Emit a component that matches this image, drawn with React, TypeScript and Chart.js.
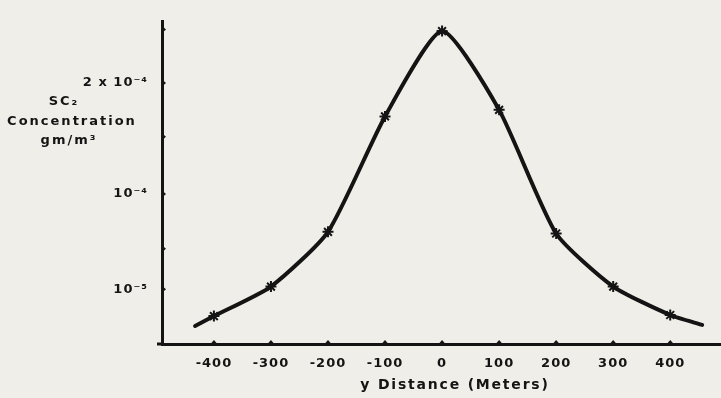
import React, { useEffect, useRef } from "react";
import { Chart, registerables } from "chart.js";
Chart.register(...registerables);

// Data (y in the figure's own plotted units)
const distances = [-433, -400, -300, -200, -100, 0, 100, 200, 300, 400, 456];
const concentration = [0.33, 0.51, 1.05, 2.05, 4.16, 5.72, 4.28, 2.02, 1.05, 0.53, 0.35];
const markerShown = [false, true, true, true, true, true, true, true, true, true, false];

const xTicks = [-400, -300, -200, -100, 0, 100, 200, 300, 400];
const xTickLabels = ["-400", "-300", "-200", "-100", "0", "100", "200", "300", "400"];
const yTicks = [1.0, 1.74, 2.74, 3.79, 4.77, 5.75];
const yTickLabels = ["10⁻⁵", "", "10⁻⁴", "", "2 x 10⁻⁴", ""];
const yTitleLines = ["SC₂", "Concentration", "gm/m³"];
const xTitle = "y Distance (Meters)";

const INK = "#141414";
const BG = "#efeee9";
const FONT = '"DejaVu Sans", sans-serif';

const decor = {
  id: "decor",
  beforeDraw(chart: any) {
    (chart.ctx as any).letterSpacing = "1px";
  },
  afterDraw(chart: any) {
    const { ctx, chartArea, scales } = chart;
    ctx.save();
    ctx.fillStyle = INK;
    for (const v of xTicks) {
      const px = scales.x.getPixelForValue(v);
      ctx.beginPath();
      ctx.moveTo(px - 3.5, chartArea.bottom);
      ctx.lineTo(px, chartArea.bottom - 4);
      ctx.lineTo(px + 3.5, chartArea.bottom);
      ctx.fill();
    }
    for (const v of yTicks) {
      const py = scales.y.getPixelForValue(v);
      ctx.beginPath();
      ctx.moveTo(chartArea.left, py - 3.5);
      ctx.lineTo(chartArea.left + 4, py);
      ctx.lineTo(chartArea.left, py + 3.5);
      ctx.fill();
    }
    ctx.fillRect(chartArea.left - 5, chartArea.bottom - 1.5, 5, 3);
    ctx.textAlign = "center";
    ctx.textBaseline = "middle";
    ctx.font = `bold 14px ${FONT}`;
    (ctx as any).letterSpacing = "1.8px";
    ctx.fillText(xTitle, 455, 385);
    ctx.font = `bold 13px ${FONT}`;
    (ctx as any).letterSpacing = "2px";
    ctx.fillText(yTitleLines[0], 64, 102);
    ctx.fillText(yTitleLines[1], 72, 122);
    ctx.fillText(yTitleLines[2], 69, 141);
    ctx.restore();
  },
};

export default function App() {
  const ref = useRef<HTMLCanvasElement>(null);
  useEffect(() => {
    if (!ref.current) return;
    const chart = new Chart(ref.current, {
      type: "line",
      data: {
        datasets: [
          {
            data: distances.map((x, i) => ({ x, y: concentration[i] })),
            borderColor: INK,
            borderWidth: 4,
            borderCapStyle: "round",
            borderJoinStyle: "round",
            tension: 0.2,
            pointStyle: "star",
            pointRadius: markerShown.map((m) => (m ? 5.5 : 0)),
            pointBorderWidth: 2,
            pointBorderColor: INK,
            pointBackgroundColor: INK,
            fill: false,
          },
        ],
      },
      options: {
        animation: false,
        responsive: false,
        devicePixelRatio: 1,
        layout: { padding: { top: 8, left: 0, right: 0, bottom: 0 } },
        plugins: { legend: { display: false }, tooltip: { enabled: false } },
        scales: {
          x: {
            type: "linear",
            min: -491,
            max: 489,
            afterFit: (s: any) => {
              s.height = 54;
            },
            afterBuildTicks: (s: any) => {
              s.ticks = xTicks.map((v) => ({ value: v }));
            },
            grid: { display: false, drawTicks: false },
            border: { display: true, width: 3, color: INK },
            ticks: {
              padding: 12,
              color: INK,
              font: { family: FONT, size: 13, weight: "bold" },
              callback: (_v: any, i: number) => xTickLabels[i],
              maxRotation: 0,
              autoSkip: false,
            },
          },
          y: {
            type: "linear",
            min: 0,
            max: 5.89,
            afterFit: (s: any) => {
              s.width = 162;
            },
            afterBuildTicks: (s: any) => {
              s.ticks = yTicks.map((v) => ({ value: v }));
            },
            grid: { display: false, drawTicks: false },
            border: { display: true, width: 3, color: INK },
            ticks: {
              padding: 14,
              color: INK,
              font: { family: FONT, size: 13, weight: "bold" },
              callback: (_v: any, i: number) => yTickLabels[i],
              autoSkip: false,
            },
          },
        },
      },
      plugins: [decor],
    } as any);
    return () => chart.destroy();
  }, []);
  return (
    <div style={{ position: "absolute", left: 0, top: 0, width: 721, height: 398, background: BG }}>
      <canvas ref={ref} width={721} height={398} />
    </div>
  );
}
